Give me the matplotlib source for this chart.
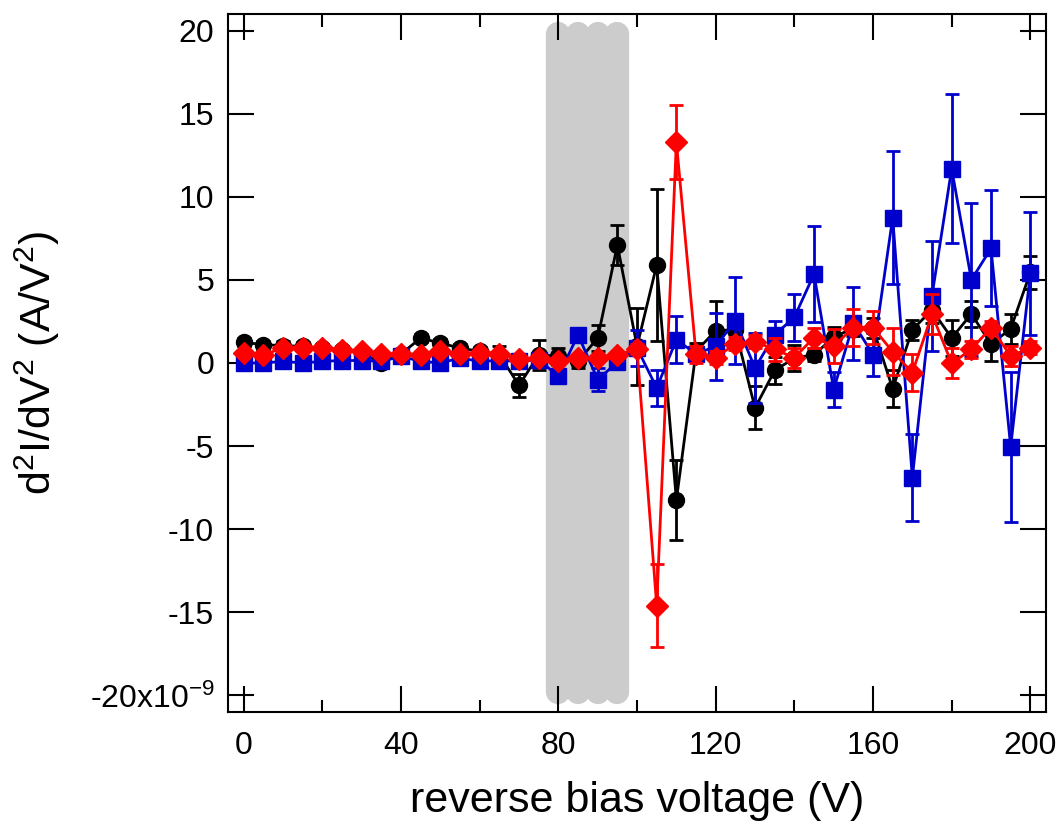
import numpy as np
import matplotlib.pyplot as plt
from matplotlib.ticker import MultipleLocator, FuncFormatter

plt.rcParams['font.family'] = ['Liberation Sans', 'DejaVu Sans']
plt.rcParams['mathtext.default'] = 'regular'

# reverse bias voltage (V)
volts = np.arange(0, 201, 5)

# d2I/dV2 in units of 1e-9 A/V^2
black_y = [1.25, 1.1, 1.05, 1.0, 0.9, 0.8, 0.6, 0.0, 0.55, 1.5,
           1.2, 0.9, 0.7, 0.5, -1.35, 0.5, 0.4, 0.1, 1.5, 7.1,
           1.0, 5.9, -8.25, 0.7, 1.95, 2.0, -2.7, -0.45, 0.3, 0.5,
           1.55, 2.1, 2.1, -1.55, 2.0, 3.2, 1.5, 2.95, 1.15, 2.05, 5.45]
black_err = [0.25, 0.25, 0.25, 0.25, 0.25, 0.25, 0.25, 0.25, 0.25, 0.25,
             0.25, 0.25, 0.25, 0.5, 0.7, 0.9, 0.5, 0.4, 0.8, 1.2,
             2.3, 4.6, 2.4, 0.5, 1.8, 0.8, 1.3, 0.8, 0.8, 0.4,
             0.6, 0.5, 0.6, 1.1, 0.6, 0.8, 1.1, 0.8, 1.0, 0.9, 1.0]

blue_y = [0.0, 0.0, 0.1, 0.0, 0.1, 0.15, 0.15, 0.1, 0.4, 0.1,
          0.0, 0.3, 0.1, 0.15, 0.1, 0.2, -0.8, 1.7, -1.0, 0.05,
          0.9, -1.5, 1.4, 0.55, 1.0, 2.55, -0.3, 1.7, 2.75, 5.35,
          -1.6, 2.4, 0.5, 8.75, -6.9, 4.05, 11.7, 5.0, 6.9, -5.05, 5.4]
blue_err = [0.2, 0.2, 0.2, 0.2, 0.2, 0.2, 0.2, 0.2, 0.2, 0.2,
            0.2, 0.2, 0.2, 0.2, 0.2, 0.2, 0.4, 0.4, 0.7, 0.3,
            1.1, 1.1, 1.4, 0.4, 2.0, 2.6, 2.1, 0.8, 1.4, 2.9,
            1.05, 2.2, 1.3, 4.0, 2.6, 3.3, 4.5, 4.6, 3.5, 4.5, 3.7]

red_y = [0.62, 0.48, 0.92, 0.92, 0.88, 0.8, 0.72, 0.56, 0.56, 0.5,
         0.72, 0.56, 0.62, 0.56, 0.22, 0.28, 0.12, 0.28, 0.28, 0.5,
         0.82, -14.6, 13.3, 0.52, 0.32, 1.16, 1.28, 0.82, 0.32, 1.53,
         1.02, 2.13, 2.13, 0.68, -0.58, 2.93, -0.02, 0.82, 2.13, 0.42, 0.92]
red_err = [0.15, 0.15, 0.15, 0.15, 0.15, 0.15, 0.15, 0.15, 0.15, 0.15,
           0.15, 0.15, 0.15, 0.15, 0.15, 0.15, 0.15, 0.15, 0.15, 0.15,
           0.3, 2.5, 2.2, 0.5, 0.4, 0.4, 0.4, 0.7, 0.6, 0.6,
           1.0, 1.1, 1.0, 1.4, 1.1, 1.2, 0.9, 0.5, 0.4, 0.6, 0.4]

# grey band (breakdown region)
band_v = [80, 85, 90, 95]
band_lo, band_hi = -19.8, 19.8

fig = plt.figure(figsize=(10.62, 8.25), dpi=100)
ax = fig.add_axes([0.2147, 0.137, 0.7703, 0.846])

for v in band_v:
    ax.plot([v, v], [band_lo, band_hi], color='#CCCCCC', lw=17.5,
            solid_capstyle='round', zorder=0.5)

common = dict(lw=2, elinewidth=2, capsize=5, capthick=2)
ax.errorbar(volts, black_y, yerr=black_err, color='black', marker='o',
            ms=11.5, zorder=2, **common)
ax.errorbar(volts, blue_y, yerr=blue_err, color='#0000CC', marker='s',
            ms=11.5, zorder=3, **common)
ax.errorbar(volts, red_y, yerr=red_err, color='#FF0000', marker='D',
            ms=11, zorder=4, **common)

ax.set_xlim(-4, 204)
ax.set_ylim(-21, 21)
ax.xaxis.set_major_locator(MultipleLocator(40))
ax.xaxis.set_minor_locator(MultipleLocator(20))
ax.yaxis.set_major_locator(MultipleLocator(5))


def ylab(v, pos):
    if abs(v + 20) < 1e-6:
        return '-20x10$^{-9}$'
    return '%d' % v


ax.yaxis.set_major_formatter(FuncFormatter(ylab))

ax.tick_params(which='both', direction='in', top=True, right=True,
               width=1.5, labelsize=23)
ax.tick_params(which='major', length=19)
ax.tick_params(which='minor', length=9)
ax.tick_params(axis='x', pad=14)
ax.tick_params(axis='y', pad=10)
for s in ax.spines.values():
    s.set_linewidth(1.5)

ax.set_xlabel('reverse bias voltage (V)', fontsize=31, labelpad=14)
ax.set_ylabel('d$^2$I/dV$^2$ (A/V$^2$)', fontsize=31, labelpad=20)

fig.savefig('out.png', dpi=100)
